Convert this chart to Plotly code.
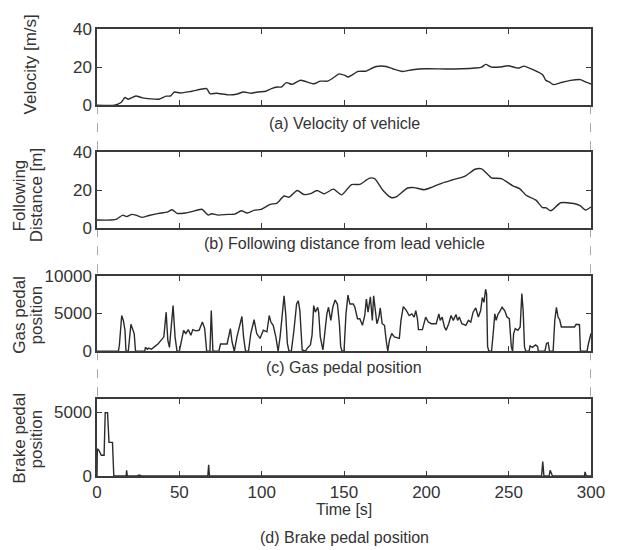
import plotly.graph_objects as go
from plotly.subplots import make_subplots

# ---------------- data ----------------
vel_t = [0, 10.6, 14.6, 17, 19, 23.6, 27.6, 37.6, 42, 44.6, 47, 50.6, 57.6, 66.6, 68.6, 72.6,
         79.6, 84.6, 89, 93.6, 97.6, 102.6, 106, 109.6, 112, 115, 118.6, 123.6, 131.6, 135.6,
         140, 143.6, 147, 150.6, 152.6, 158.6, 163.6, 165.6, 169.6, 175.6, 179.6, 185.6, 191.6,
         199.6, 211.6, 221.6, 229.6, 233.6, 236, 239.6, 244.6, 249.6, 254.6, 256.6, 259.2,
         265.6, 270.6, 272.6, 274.6, 277.2, 281.6, 287.6, 293.6, 296.6, 300]
vel_v = [0, 0, 1.4, 4, 3.1, 4.8, 3.8, 3.1, 4.7, 4.8, 6.9, 6.4, 7.3, 8.7, 6, 6.2,
         5.4, 5.7, 6.9, 6.2, 6.9, 7.3, 8.7, 9.5, 9.5, 11.8, 10.9, 13.1, 11.2, 12.6,
         12.6, 14.4, 16.4, 15.6, 14.8, 17.7, 17.9, 18.8, 20.3, 20.3, 19.1, 17.7, 18.6,
         19.1, 19.0, 19.1, 19.5, 20.0, 21.4, 20.0, 20.0, 20.7, 19.6, 19.5, 20.5,
         18.3, 16.0, 13.0, 12.2, 10.8, 11.8, 13.0, 13.4, 12.2, 11.1]

dist_t = [0, 8.6, 12, 15.6, 18, 21.2, 23.6, 27.2, 31.6, 37.6, 42.6, 45.6, 48.6, 53.6, 57.6,
          63.6, 67.6, 69.6, 73.6, 79.6, 83.6, 87.6, 91.2, 95.6, 99.6, 105.2, 109.2, 113.6,
          116.6, 121.6, 125.6, 129.6, 133.6, 138, 143.6, 148.6, 154.6, 159.6, 165.6, 168.6,
          173.6, 178.6, 181.6, 188.6, 192.6, 198.6, 203.6, 209.6, 215.6, 223.6, 229.6, 233.6,
          239.6, 245.6, 252.6, 256.6, 260.6, 266.6, 270.6, 272.6, 275.6, 281.6, 289.6, 293.6,
          296.6, 300]
dist_d = [4.3, 4.3, 4.8, 6.9, 6.1, 7.3, 6.9, 5.7, 6.7, 7.8, 8.5, 9.7, 7.8, 8.0, 8.7,
          10.0, 6.9, 7.6, 6.9, 7.3, 7.4, 9.2, 8.0, 9.5, 9.9, 12.6, 13.1, 17.0,
          16.3, 19.9, 17.8, 18.2, 19.9, 18.2, 20.6, 17.6, 23.0, 23.1, 26.4, 26.1,
          20.0, 16.2, 16.5, 21.2, 21.4, 20.3, 21.7, 23.8, 25.4, 27.5, 31.1, 31.3,
          26.6, 26.1, 22.3, 20.9, 17.4, 14.8, 10.8, 10.8, 9.2, 13.4, 13.0, 11.8,
          9.6, 11.2]

gas_t = [0, 13, 13.6, 15, 16, 17, 17.6, 19, 20.6, 21.6, 22.6, 23.4, 29, 29.4, 30.6, 31.4, 33,
         35, 37, 39, 40.6, 42, 43, 44, 45, 46.2, 47.4, 48.6, 50, 51, 52.6, 54, 55.4, 57,
         58.2, 60, 62, 64, 65.4, 66.6, 68.6, 69.4, 70.4, 74, 75, 79, 81, 82, 83.4, 85,
         86.4, 88, 89, 90.2, 92, 93.4, 95.4, 97, 99, 101, 103.2, 104.6, 105.6, 107, 108.6,
         110, 111.2, 112.6, 113.6, 114.6, 115.6, 116.6, 118, 119.6, 121.2, 122.2, 123.2,
         124.6, 126.6, 127.6, 129.6, 130.6, 131.6, 132.6, 134, 134.6, 135.6, 137.2, 138.2,
         139.6, 140.6, 142, 143.2, 144.6, 146, 147.2, 148, 148.8, 150, 151.2, 152.4, 153.6,
         155.6, 156.6, 158.2, 159.6, 161.2, 162.6, 163.6, 164.6, 166, 167.2, 168, 169.2,
         170, 171.2, 172, 173.2, 174.6, 175.6, 176.6, 177.6, 179, 180.6, 183.6, 184.6, 186,
         187.6, 189.6, 191.2, 192.6, 193.6, 194.6, 195.2, 197.6, 199.6, 201.2, 203, 206,
         207.6, 208.4, 209.6, 211, 212, 213.6, 215, 216.4, 218, 219, 220, 221.6, 224,
         225.6, 227, 228.4, 230, 231.6, 233, 234, 235, 236, 236.6, 237.2, 238, 239.6,
         240.6, 241.6, 242.4, 243.6, 244.4, 246, 247.6, 249, 250.4, 251.6, 252.4, 253,
         254, 255.6, 257, 258, 258.8, 259.6, 260.4, 262.4, 263, 264.4, 266.4, 267.6, 268,
         272, 273, 274, 274.8, 277, 278, 279, 280, 281, 282, 286, 290, 291, 293, 293.6,
         297.6, 298.4, 299.4, 300]
gas_g = [0, 0, 830, 4740, 4090, 2780, 0, 0, 3570, 3000, 2350, 0, 0, 520, 260, 430, 260,
         610, 960, 1480, 1910, 5180, 1480, 520, 3650, 6050, 1910, 0, 0, 1040, 2780, 2350,
         2870, 2130, 2870, 2700, 2780, 3870, 3000, 0, 0, 5390, 0, 0, 960, 960, 3000, 1260,
         0, 1910, 3000, 4610, 1910, 0, 0, 2350, 4180, 2350, 1700, 2780, 2570, 4740, 3870,
         3440, 1910, 0, 1910, 5390, 7350, 4960, 1040, 0, 0, 2780, 6260, 6700, 5390, 170,
         0, 390, 830, 2130, 6050, 5180, 5830, 5180, 1910, 170, 1910, 4960, 5830, 4090,
         5830, 6790, 6260, 3650, 610, 0, 0, 4960, 7440, 6260, 6260, 5830, 4310, 4310,
         3440, 4740, 6920, 5180, 7220, 4090, 7350, 5390, 3650, 4530, 5740, 3650, 3440,
         1480, 0, 1480, 2350, 1910, 1700, 4090, 5920, 5480, 4740, 4960, 4530, 5390, 4310,
         2870, 2870, 4530, 3870, 3650, 3650, 4960, 4090, 4530, 3220, 2780, 3650, 4740,
         4090, 4870, 4090, 4530, 3650, 3440, 4090, 3870, 5180, 5740, 4530, 5390, 7130,
         6480, 8220, 7570, 610, 0, 0, 2350, 4960, 4090, 4960, 5180, 5830, 5390, 4530,
         4310, 610, 0, 2350, 3000, 2780, 3220, 7660, 5390, 610, 0, 0, 700, 520, 830, 610,
         0, 0, 1040, 1130, 0, 0, 4090, 5830, 4530, 4180, 3220, 3220, 3220, 3570, 3520, 0,
         0, 960, 1700, 2350]

brake_t = [0, 0.2, 1.2, 2.6, 4.3, 5, 6.4, 7.3, 9.4, 10.2, 17.7, 18, 18.4, 24.5, 25.5, 27.2,
           67.3, 67.8, 68.3, 270, 270.7, 271.4, 274.6, 275.2, 276.6, 296, 296.4, 297.1, 300]
brake_b = [0, 2125, 2000, 1625, 1625, 4950, 4950, 2625, 2625, 0, 0, 450, 0, 0, 75, 0,
           0, 875, 0, 0, 1125, 0, 0, 450, 0, 0, 325, 0, 0]

x_ticks = [0, 50, 100, 150, 200, 250, 300]
vel_ticks = [0, 20, 40]
dist_ticks = [0, 20, 40]
gas_ticks = [0, 5000, 10000]
brake_ticks = [0, 5000]

subtitles = ["(a) Velocity of vehicle", "(b) Following distance from lead vehicle",
             "(c) Gas pedal position", "(d) Brake pedal position"]
ytitle_lines = [["Velocity [m/s]"], ["Following", "Distance [m]"],
                ["Gas pedal", "position"], ["Brake pedal", "position"]]

# ---------------- figure ----------------
FONT = "Liberation Sans, Arial, sans-serif"
LINE = "#2b2b2b"
AX = "#3a3a3a"
TXT = "#333333"

fig = make_subplots(rows=4, cols=1)
series = [(vel_t, vel_v, "spline"), (dist_t, dist_d, "spline"),
          (gas_t, gas_g, "linear"), (brake_t, brake_b, "linear")]
for i, (xs, ys, shp) in enumerate(series, start=1):
    ln = dict(color=LINE, width=1.4, shape=shp)
    if shp == "spline":
        ln["smoothing"] = 0.6
    fig.add_trace(go.Scatter(x=xs, y=ys, mode="lines", line=ln,
                             showlegend=False, hoverinfo="skip"), row=i, col=1)

domains = [[0.8297, 1.0], [0.5544, 0.7240], [0.2791, 0.4478], [0.0, 0.1718]]
yranges = [[0, 40], [0, 40], [0, 10000], [0, 6000]]
yticks = [vel_ticks, dist_ticks, gas_ticks, brake_ticks]

common = dict(showline=True, linecolor=AX, linewidth=1.5, mirror="ticks",
              ticks="inside", ticklen=5, tickwidth=1.2, tickcolor=AX,
              showgrid=False, zeroline=False,
              tickfont=dict(family=FONT, size=17, color=TXT))

for i in range(4):
    xa = "xaxis" if i == 0 else f"xaxis{i+1}"
    ya = "yaxis" if i == 0 else f"yaxis{i+1}"
    fig.layout[xa].update(range=[0, 300], tickvals=x_ticks,
                          showticklabels=(i == 3), domain=[0, 1], **common)
    fig.layout[ya].update(range=yranges[i], tickvals=yticks[i], domain=domains[i],
                          tickformat="d", **common)

# dashed connectors between panels
gaps = [(domains[0][0], domains[1][1]), (domains[1][0], domains[2][1]),
        (domains[2][0], domains[3][1])]
shapes = []
for (y0, y1) in gaps:
    for xv in [0, 300]:
        shapes.append(dict(type="line", xref="x4", yref="paper", x0=xv, x1=xv,
                           y0=y0, y1=y1, line=dict(color="#555", width=1, dash="dash")))

# page pixel -> paper coordinates (plot area: x 97..598, y 22..476 on the page)
H = 454.0
def py(px):
    return (476 - px) / H

def pxp(px):
    return (px - 97) / 501.0

annotations = []
sub_y = [118, 240, 366, 538]
for s, yy in zip(subtitles, sub_y):
    annotations.append(dict(text=s, xref="paper", yref="paper", x=0.5, y=py(yy),
                            xanchor="center", yanchor="middle", showarrow=False,
                            font=dict(family=FONT, size=16, color=TXT)))
annotations.append(dict(text="Time [s]", xref="paper", yref="paper", x=0.5, y=py(510),
                        xanchor="center", yanchor="middle", showarrow=False,
                        font=dict(family=FONT, size=16, color=TXT)))

yt_y = [58, 191, 312, 438]
for lines, yy in zip(ytitle_lines, yt_y):
    xs_px = [29] if len(lines) == 1 else [18, 36]
    for txt, xx in zip(lines, xs_px):
        annotations.append(dict(text=txt, xref="paper", yref="paper", x=pxp(xx), y=py(yy),
                                xanchor="center", yanchor="middle", showarrow=False,
                                textangle=-90,
                                font=dict(family=FONT, size=17, color=TXT)))

# the page body has an 8px margin, so the figure is sized/offset to compensate
fig.update_layout(width=609, height=542,
                  margin=dict(l=89, r=19, t=14, b=74),
                  paper_bgcolor="white", plot_bgcolor="white",
                  shapes=shapes, annotations=annotations)

fig.write_html("out.html")
